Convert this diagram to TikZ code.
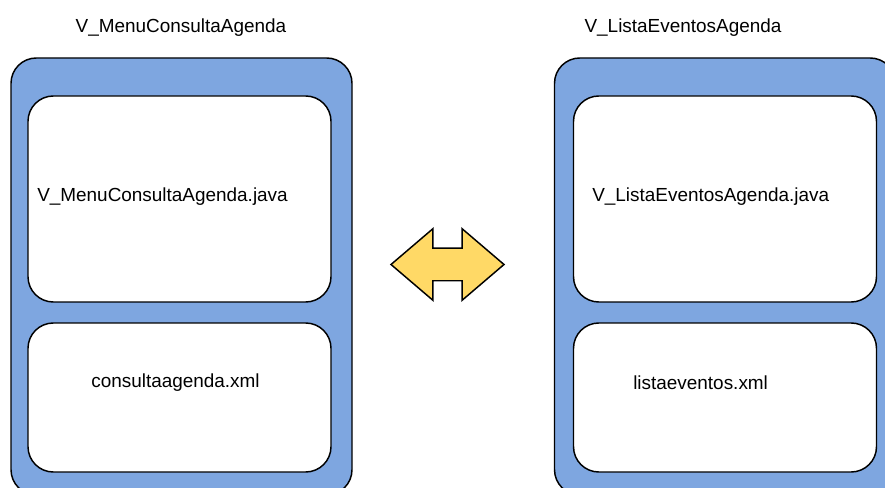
\documentclass[tikz,border=0pt]{standalone}
\usepackage{fontspec}
\setmainfont{Liberation Sans}
\usetikzlibrary{shapes.arrows}
\definecolor{boxblue}{HTML}{7EA6E0}
\definecolor{arrowyellow}{HTML}{FFD966}
\begin{document}
\begin{tikzpicture}[x=0.75pt, y=-0.75pt,
    outerbox/.style={draw, line width=1.1pt, fill=boxblue, rounded corners=19pt, minimum width=255.75pt, minimum height=327.75pt, inner sep=0pt},
    innerbox/.style={draw, line width=1.1pt, fill=white, rounded corners=19pt, minimum width=227.25pt, inner sep=0pt},
    label/.style={font=\fontsize{14.2}{16}\selectfont, inner sep=0pt}]
    \useasboundingbox (0,0) rectangle (885,488);
    \clip (0,0) rectangle (885,488);
    % titles
    \node[label] (tl) at (181,28){V\_MenuConsultaAgenda};
    \node[label] (tr) at (683,28){V\_ListaEventosAgenda};
    % left window
    \node[outerbox] (L) at (181.5,276.5){};
    \node[innerbox, minimum height=154.5pt] (Ljava) at (179.5,199){};
    \node[innerbox, minimum height=111.75pt] (Lxml) at (179.5,397.5){};
    \node[label, anchor=west] (tLjava) at (37,197){V\_MenuConsultaAgenda.java};
    \node[label] (tLxml) at (175.5,383){consultaagenda.xml};
    % right window
    \node[outerbox] (R) at (725,276.5){};
    \node[innerbox, minimum height=154.5pt] (Rjava) at (725,199){};
    \node[innerbox, minimum height=111.75pt] (Rxml) at (725,397.5){};
    \node[label, anchor=west] (tRjava) at (592,197){V\_ListaEventosAgenda.java};
    \node[label, anchor=west] (tRxml) at (633,383){listaeventos.xml};
    % link
    \node[double arrow, draw, line width=1.1pt, fill=arrowyellow, inner xsep=0pt, inner ysep=11.65pt,
        minimum height=84.75pt, double arrow head extend=14.6pt,
        double arrow tip angle=81] (link) at (447.5,264.5){};
\end{tikzpicture}
\end{document}
